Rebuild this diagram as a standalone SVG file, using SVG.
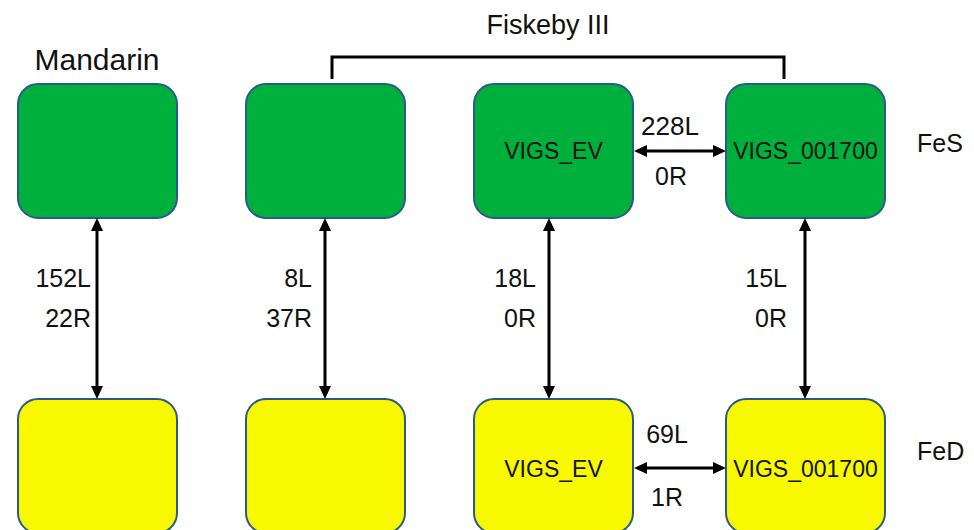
<svg xmlns="http://www.w3.org/2000/svg" width="974" height="530" viewBox="0 0 974 530">
  <style>
    text { font-family: "Liberation Sans", Arial, sans-serif; fill: #111; }
    .box { stroke: #2a5a8c; stroke-width: 2; }
    .fes { fill: #00b03c; }
    .fed { fill: #f8f800; }
    .lbl { font-size: 25px; }
    .nl { font-size: 23px; text-anchor: middle; }
    .conn { stroke: #000; stroke-width: 3; fill: none; }
  </style>
  <defs>
    <marker id="ah" markerUnits="userSpaceOnUse" markerWidth="14" markerHeight="12" refX="4" refY="6" orient="auto-start-reverse">
      <path d="M0,0 L13,6 L0,12 Z" fill="#000"/>
    </marker>
  </defs>
  <rect width="974" height="530" fill="#fff"/>

  <g id="titles">
    <text x="97" y="70" font-size="30" text-anchor="middle">Mandarin</text>
    <text x="548" y="34" font-size="27" text-anchor="middle">Fiskeby III</text>
    <text x="917" y="152" class="lbl">FeS</text>
    <text x="917" y="460" class="lbl">FeD</text>
  </g>

  <g id="node-mandarin-fes"><rect class="box fes" x="18" y="84" width="159" height="134" rx="20"/></g>
  <g id="node-fiskeby-fes"><rect class="box fes" x="246" y="84" width="159" height="134" rx="20"/></g>
  <g id="node-ev-fes"><rect class="box fes" x="474" y="84" width="159" height="134" rx="20"/><text class="nl" x="553.5" y="159">VIGS_EV</text></g>
  <g id="node-1700-fes"><rect class="box fes" x="726" y="84" width="159" height="134" rx="20"/><text class="nl" x="805.5" y="159">VIGS_001700</text></g>

  <g id="node-mandarin-fed"><rect class="box fed" x="18" y="399" width="159" height="134" rx="20"/></g>
  <g id="node-fiskeby-fed"><rect class="box fed" x="246" y="399" width="159" height="134" rx="20"/></g>
  <g id="node-ev-fed"><rect class="box fed" x="474" y="399" width="159" height="134" rx="20"/><text class="nl" x="553.5" y="477">VIGS_EV</text></g>
  <g id="node-1700-fed"><rect class="box fed" x="726" y="399" width="159" height="134" rx="20"/><text class="nl" x="805.5" y="477">VIGS_001700</text></g>

  <g id="connectors">
    <path class="conn" d="M332 79 V57 H784 V79" stroke-width="3.5"/>
    <line class="conn" x1="97" y1="227" x2="97" y2="390" marker-start="url(#ah)" marker-end="url(#ah)"/>
    <line class="conn" x1="325" y1="227" x2="325" y2="390" marker-start="url(#ah)" marker-end="url(#ah)"/>
    <line class="conn" x1="549" y1="227" x2="549" y2="390" marker-start="url(#ah)" marker-end="url(#ah)"/>
    <line class="conn" x1="805" y1="227" x2="805" y2="390" marker-start="url(#ah)" marker-end="url(#ah)"/>
    <line class="conn" x1="643" y1="151" x2="717" y2="151" marker-start="url(#ah)" marker-end="url(#ah)"/>
    <line class="conn" x1="643" y1="468" x2="717" y2="468" marker-start="url(#ah)" marker-end="url(#ah)"/>
  </g>

  <g id="edge-labels" class="lbl">
    <text x="91" y="287" text-anchor="end">152L</text>
    <text x="91" y="327" text-anchor="end">22R</text>
    <text x="312" y="287" text-anchor="end">8L</text>
    <text x="312" y="327" text-anchor="end">37R</text>
    <text x="536" y="287" text-anchor="end">18L</text>
    <text x="536" y="327" text-anchor="end">0R</text>
    <text x="787" y="287" text-anchor="end">15L</text>
    <text x="787" y="327" text-anchor="end">0R</text>
    <text x="670" y="135" text-anchor="middle" font-size="26">228L</text>
    <text x="671" y="185" text-anchor="middle">0R</text>
    <text x="667" y="443" text-anchor="middle">69L</text>
    <text x="667" y="506" text-anchor="middle">1R</text>
  </g>
</svg>
